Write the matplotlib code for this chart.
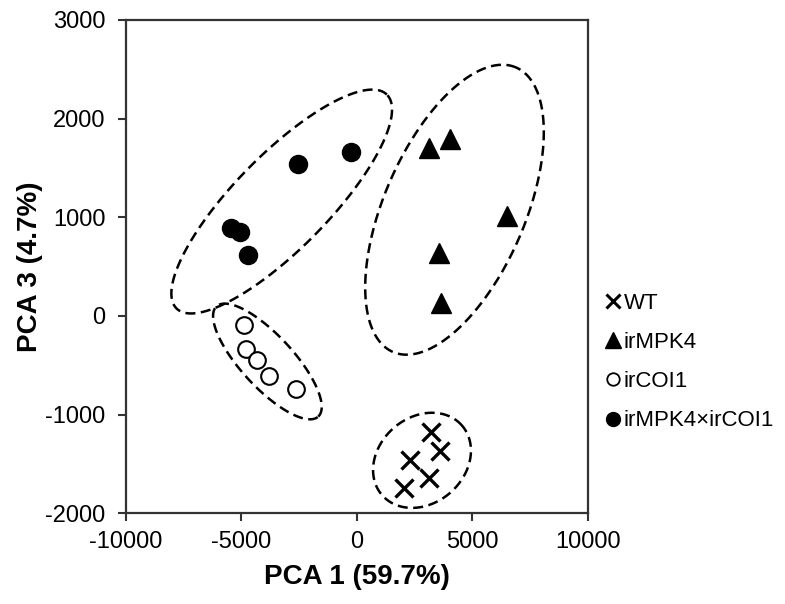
import numpy as np
import matplotlib
matplotlib.use('Agg')
import matplotlib.pyplot as plt
from matplotlib.lines import Line2D

plt.rcParams['font.family'] = ['Liberation Sans', 'DejaVu Sans']
plt.rcParams['axes.unicode_minus'] = False

# ---- data ----
wt_x = [3216, 3606, 2307, 3130, 2061]
wt_y = [-1179, -1369, -1460, -1645, -1747]
mpk4_x = [3130, 4039, 6494, 3563, 3650]
mpk4_y = [1700, 1794, 1013, 635, 128]
coi1_x = [-4866, -4805, -4303, -3797, -2641]
coi1_y = [-91, -335, -446, -605, -740]
dbl_x = [-2528, -247, -5442, -5052, -4693]
dbl_y = [1537, 1659, 887, 851, 618]

labels = ['WT', 'irMPK4', 'irCOI1', 'irMPK4\u00d7irCOI1']
x_ticks = [-10000, -5000, 0, 5000, 10000]
y_ticks = [-2000, -1000, 0, 1000, 2000, 3000]

# group ellipses: centre (data), semi-axes (screen px), angle (deg on screen)
ell_cx = [-3247, 4234, -3866, 2827]
ell_cy = [1160, 1077, -461, -1463]
ell_a = [150, 155, 75, 53]
ell_b = [47, 70.5, 26, 43]
ell_ang = [45.5, 66.6, -47.3, 41]

W, H = 785, 604
fig = plt.figure(figsize=(W / 100, H / 100), dpi=100)
ax = fig.add_axes([125.7 / W, 1 - 513.3 / H, 462 / W, 493.3 / H])
ax.set_xlim(-10000, 10000)
ax.set_ylim(-2000, 3000)

ppx = 462 / 20000.0
ppy = 493.3 / 5000.0
t = np.linspace(0, 2 * np.pi, 400)
for cx, cy, a, b, ang in zip(ell_cx, ell_cy, ell_a, ell_b, ell_ang):
    th = np.deg2rad(ang)
    u, v = a * np.cos(t), b * np.sin(t)
    X = u * np.cos(th) - v * np.sin(th)
    Y = u * np.sin(th) + v * np.cos(th)
    ax.plot(cx + X / ppx, cy + Y / ppy, color='black', lw=1.8,
            linestyle=(0, (4, 2.2)), zorder=1)

ax.plot(wt_x, wt_y, linestyle='none', marker='x', ms=13, mew=2.4, color='black', zorder=3)
ax.plot(mpk4_x, mpk4_y, linestyle='none', marker='^', ms=14, color='black', zorder=3)
ax.plot(coi1_x, coi1_y, linestyle='none', marker='o', ms=12, mfc='white', mec='black', mew=1.5, zorder=3)
ax.plot(dbl_x, dbl_y, linestyle='none', marker='o', ms=13, color='black', zorder=3)

ax.set_xticks(x_ticks)
ax.set_yticks(y_ticks)
ax.tick_params(axis='both', direction='out', labelsize=17, width=1.5, length=5.5, color='#333333')
ax.tick_params(axis='x', pad=7)
ax.tick_params(axis='y', pad=9)
for s in ax.spines.values():
    s.set_linewidth(1.6)
    s.set_color('#333333')

ax.set_xlabel('PCA 1 (59.7%)', fontsize=20, fontweight='bold', labelpad=8)
ax.set_ylabel('PCA 3 (4.7%)', fontsize=20, fontweight='bold', labelpad=2)

handles = [
    Line2D([], [], linestyle='none', marker='x', ms=9.5, mew=2.2, color='black'),
    Line2D([], [], linestyle='none', marker='^', ms=11, color='black'),
    Line2D([], [], linestyle='none', marker='o', ms=9, mfc='white', mec='black', mew=1.3),
    Line2D([], [], linestyle='none', marker='o', ms=10, color='black'),
]
ax.legend(handles, labels, loc='center left', bbox_to_anchor=(1.0, (513.3 - 362) / 493.3),
          frameon=False, fontsize=16, borderaxespad=0.73, borderpad=0,
          handlelength=0.8, handletextpad=0.1, labelspacing=0.82)

fig.savefig('out.png', dpi=100)
